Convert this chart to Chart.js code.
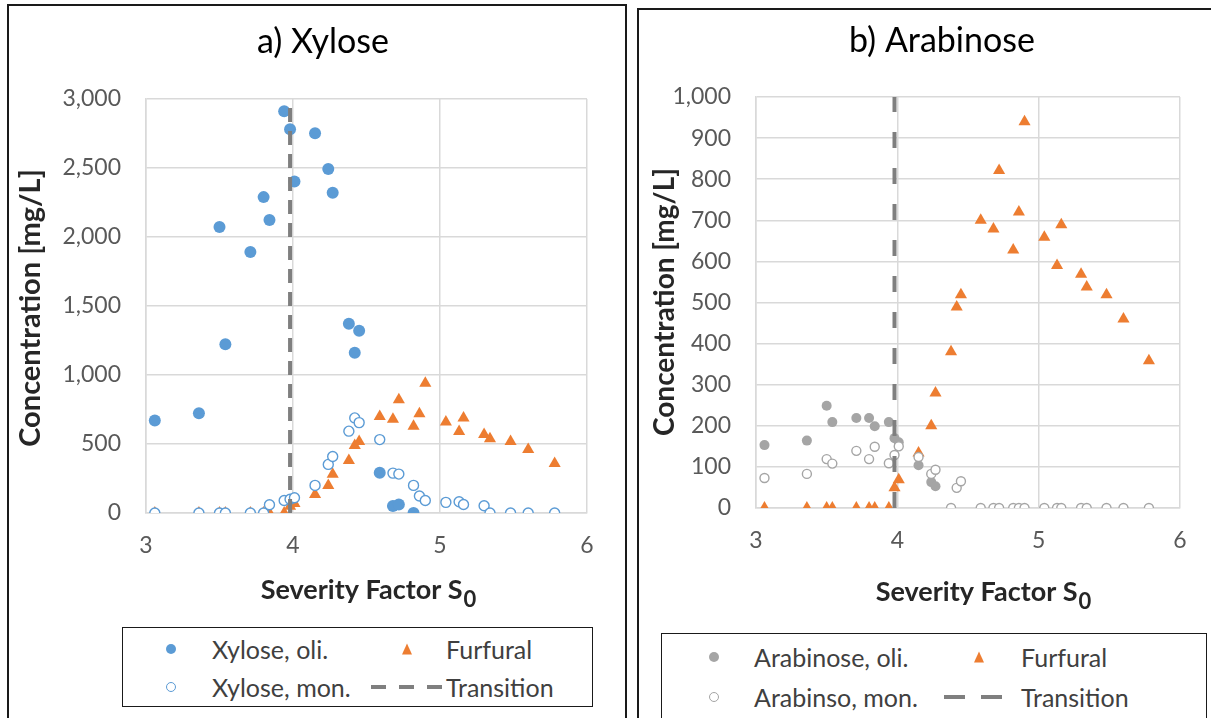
<!DOCTYPE html>
<html>
<head>
<meta charset="utf-8">
<title>Xylose and arabinose concentrations vs. severity factor</title>
<script src="https://cdn.jsdelivr.net/npm/chart.js@4.4.1/dist/chart.umd.min.js"></script>
<style>
  html, body { margin: 0; padding: 0; background: #fff; width: 1211px; height: 718px; overflow: hidden; }
  body { position: relative; font-family: Lato, "Noto Sans", sans-serif; }
  .panel { position: absolute; border: 2px solid #1a1a1a; box-sizing: border-box; }
  #panelA { left: 7px; top: 4px; width: 620px; height: 740px; }
  #panelB { left: 637px; top: 8px; width: 620px; height: 740px; }
  canvas { position: absolute; top: 0; }
  #chartA { left: 0; }
  #chartB { left: 630px; }
  .legend { position: absolute; border: 1.5px solid #1a1a1a; box-sizing: border-box; background: #fff; }
  .mk { position: absolute; transform: translate(-50%, -50%); box-sizing: border-box; }
  .dot { width: 10px; height: 10px; border-radius: 50%; }
  .ring { width: 10px; height: 10px; border-radius: 50%; background: #fff; border: 1.4px solid; }
  .tri { width: 0; height: 0; border-left: 5.5px solid transparent; border-right: 5.5px solid transparent; border-bottom: 11px solid #ed7d31; }
  .dash { position: absolute; height: 4px; transform: translateY(-50%); }
  .lt { position: absolute; transform: translateY(-50%); font-size: 25px; line-height: 1; color: #404040; white-space: nowrap; }
</style>
</head>
<body>
<div class="panel" id="panelA"></div>
<div class="panel" id="panelB"></div>
<canvas id="chartA" width="630" height="620"></canvas>
<canvas id="chartB" width="581" height="620"></canvas>

<!-- legend, panel a -->
<div class="legend" style="left:122px;top:627px;width:471px;height:80px;"></div>
<div class="mk dot" style="left:171px;top:649px;background:#5b9bd5;"></div>
<div class="lt" style="left:212px;top:649px;">Xylose, oli.</div>
<div class="mk tri" style="left:407px;top:649px;"></div>
<div class="lt" style="left:446px;top:649px;">Furfural</div>
<div class="mk ring" style="left:171px;top:687px;border-color:#5b9bd5;"></div>
<div class="lt" style="left:212px;top:687px;">Xylose, mon.</div>
<div class="dash" style="left:371px;top:687px;width:71px;background:repeating-linear-gradient(90deg,#7f7f7f 0 15px,transparent 15px 28px);"></div>
<div class="lt" style="left:446px;top:687px;">Transition</div>

<!-- legend, panel b -->
<div class="legend" style="left:661px;top:633px;width:546px;height:100px;"></div>
<div class="mk dot" style="left:714px;top:657px;background:#a5a5a5;"></div>
<div class="lt" style="left:754px;top:657px;">Arabinose, oli.</div>
<div class="mk tri" style="left:979px;top:657px;"></div>
<div class="lt" style="left:1021px;top:657px;">Furfural</div>
<div class="mk ring" style="left:714px;top:697px;border-color:#a5a5a5;"></div>
<div class="lt" style="left:754px;top:697px;">Arabinso, mon.</div>
<div class="dash" style="left:944px;top:697px;width:58px;background:repeating-linear-gradient(90deg,#7f7f7f 0 21px,transparent 21px 37px);"></div>
<div class="lt" style="left:1021px;top:697px;">Transition</div>

<script>
// Severity factor S0 of each pretreatment run (shared by all series)
const severity = [3.06, 3.36, 3.50, 3.54, 3.71, 3.80, 3.84, 3.94, 3.98, 4.01,
                  4.15, 4.24, 4.27, 4.38, 4.42, 4.45, 4.59, 4.68, 4.72, 4.82,
                  4.86, 4.90, 5.04, 5.13, 5.16, 5.30, 5.34, 5.48, 5.60, 5.78];

// Concentrations in mg/L
const xyloseOli = [670, 723, 2072, 1222, 1892, 2289, 2123, 2911, 2781, 2403,
                   2752, 2492, 2321, 1371, 1161, 1320, 291, 51, 62, 0];
const xyloseMon = [0, 0, 0, 0, 0, 0, 60, 91, 100, 110,
                   200, 352, 409, 593, 689, 655, 532, 289, 282, 200,
                   123, 91, 77, 82, 62, 53, 0, 0, 0, 0];
const furfural = [0, 0, 0, 0, 0, 0, 0, 0, 49, 69,
                  134, 200, 280, 380, 489, 519, 700, 679, 821, 628,
                  720, 940, 659, 590, 689, 569, 538, 519, 460, 358];
const arabinoseOli = [153, 164, 249, 209, 219, 219, 199, 209, 170, 160,
                      104, 63, 53];
const arabinoseMon = [73, 83, 119, 108, 139, 119, 149, 109, 129, 150,
                      124, 83, 93, 0, 49, 65, 0, 0, 0, 0,
                      0, 0, 0, 0, 0, 0, 0, 0, 0, 0];

// Transition severity and axis ticks
const transitionS0 = 3.98;
const severityTicks = [3, 4, 5, 6];
const xyloseTicks = [0, 500, 1000, 1500, 2000, 2500, 3000];
const arabinoseTicks = [0, 100, 200, 300, 400, 500, 600, 700, 800, 900, 1000];

const BLUE = '#5b9bd5', ORANGE = '#ed7d31', GRAY = '#a5a5a5', DASH = '#7f7f7f', GRID = '#d9d9d9';
const FONT = 'Lato, "Noto Sans", sans-serif';
Chart.defaults.font.family = FONT;

const pairs = (ys) => ys.map((y, i) => ({ x: severity[i], y }));

// Titles and axis captions (x caption carries a subscript)
const panelText = {
  id: 'panelText',
  afterDraw(chart, args, o) {
    const ctx = chart.ctx;
    ctx.save();
    ctx.fillStyle = '#000';
    ctx.textAlign = 'center';
    ctx.textBaseline = 'alphabetic';
    ctx.font = `${o.titleSize}px ${FONT}`;
    ctx.fillText(o.title, o.titleX, o.titleY);

    ctx.fillStyle = '#262626';
    ctx.save();
    ctx.translate(o.yTitleX, o.yTitleY);
    ctx.rotate(-Math.PI / 2);
    ctx.textBaseline = 'middle';
    ctx.font = `bold ${o.yTitleSize}px ${FONT}`;
    ctx.fillText(o.yTitle, 0, 0);
    ctx.restore();

    ctx.textAlign = 'left';
    ctx.font = `bold ${o.xTitleSize}px ${FONT}`;
    const mainW = ctx.measureText(o.xTitle).width;
    ctx.font = `bold ${Math.round(o.xTitleSize * 0.8)}px ${FONT}`;
    const subW = ctx.measureText(o.xSub).width;
    const x0 = o.xTitleX - (mainW + subW) / 2;
    ctx.font = `bold ${o.xTitleSize}px ${FONT}`;
    ctx.fillText(o.xTitle, x0, o.xTitleY);
    ctx.font = `bold ${Math.round(o.xTitleSize * 0.8)}px ${FONT}`;
    ctx.fillText(o.xSub, x0 + mainW + 1, o.xTitleY + o.xTitleSize * 0.3);
    ctx.restore();
  }
};

function makeChart(id, cfg) {
  const yTicks = cfg.yTicks;
  return new Chart(document.getElementById(id), {
    data: {
      datasets: [
        { type: 'scatter', label: cfg.oliLabel, data: pairs(cfg.oli), order: 4,
          pointStyle: 'circle', pointRadius: cfg.oliRadius, backgroundColor: cfg.color,
          borderColor: cfg.color, borderWidth: 0 },
        { type: 'scatter', label: 'Furfural', data: pairs(furfural), order: 3,
          pointStyle: 'triangle', pointRadius: 7, backgroundColor: ORANGE,
          borderColor: ORANGE, borderWidth: 0 },
        { type: 'scatter', label: cfg.monLabel, data: pairs(cfg.mon), order: 2,
          pointStyle: 'circle', pointRadius: cfg.monRadius, backgroundColor: '#fff',
          borderColor: cfg.color, borderWidth: 1.4 },
        { type: 'line', label: 'Transition', order: 1,
          data: [{ x: transitionS0, y: yTicks[0] }, { x: transitionS0, y: yTicks[yTicks.length - 1] }],
          borderColor: DASH, borderWidth: 4, borderDash: cfg.dash, pointRadius: 0, fill: false }
      ]
    },
    options: {
      responsive: false,
      animation: false,
      devicePixelRatio: 1,
      layout: { padding: cfg.padding },
      plugins: {
        legend: { display: false },
        tooltip: { enabled: false },
        panelText: cfg.text
      },
      scales: {
        x: {
          type: 'linear', position: 'bottom',
          min: severityTicks[0], max: severityTicks[severityTicks.length - 1],
          afterBuildTicks: (s) => { s.ticks = severityTicks.map(v => ({ value: v })); },
          afterFit: (s) => { s.height = 100; },
          grid: { color: GRID, lineWidth: 1.5, drawTicks: false },
          border: { color: GRID, width: 1.5 },
          ticks: { padding: 19, color: '#595959', font: { size: 23 } }
        },
        y: {
          type: 'linear', position: 'left',
          min: yTicks[0], max: yTicks[yTicks.length - 1],
          afterBuildTicks: (s) => { s.ticks = yTicks.map(v => ({ value: v })); },
          afterFit: (s) => { s.width = cfg.yWidth; },
          grid: { color: GRID, lineWidth: 1.5, drawTicks: false },
          border: { color: GRID, width: 1.5 },
          ticks: { padding: 25, color: '#595959', font: { size: 23 },
                   callback: (v) => v.toLocaleString('en-US') }
        }
      }
    },
    plugins: [panelText]
  });
}

makeChart('chartA', {
  oli: xyloseOli, mon: xyloseMon, oliLabel: 'Xylose, oli.', monLabel: 'Xylose, mon.',
  color: BLUE, oliRadius: 6, monRadius: 5, yTicks: xyloseTicks, dash: [14, 9],
  padding: { left: 14, right: 43, top: 99, bottom: 7 }, yWidth: 132,
  text: { title: 'a) Xylose', titleSize: 34, titleX: 323, titleY: 53,
          yTitle: 'Concentration [mg/L]', yTitleSize: 29, yTitleX: 31, yTitleY: 308,
          xTitle: 'Severity Factor S', xSub: '0', xTitleSize: 27, xTitleX: 368, xTitleY: 599 }
});

makeChart('chartB', {
  oli: arabinoseOli, mon: arabinoseMon, oliLabel: 'Arabinose, oli.', monLabel: 'Arabinso, mon.',
  color: GRAY, oliRadius: 5, monRadius: 4.5, yTicks: arabinoseTicks, dash: [16, 20],
  padding: { left: 10, right: 31, top: 97, bottom: 12 }, yWidth: 116,
  text: { title: 'b) Arabinose', titleSize: 34, titleX: 312, titleY: 52,
          yTitle: 'Concentration [mg/L]', yTitleSize: 28, yTitleX: 35, yTitleY: 302,
          xTitle: 'Severity Factor S', xSub: '0', xTitleSize: 27, xTitleX: 353, xTitleY: 601 }
});
</script>
</body>
</html>
